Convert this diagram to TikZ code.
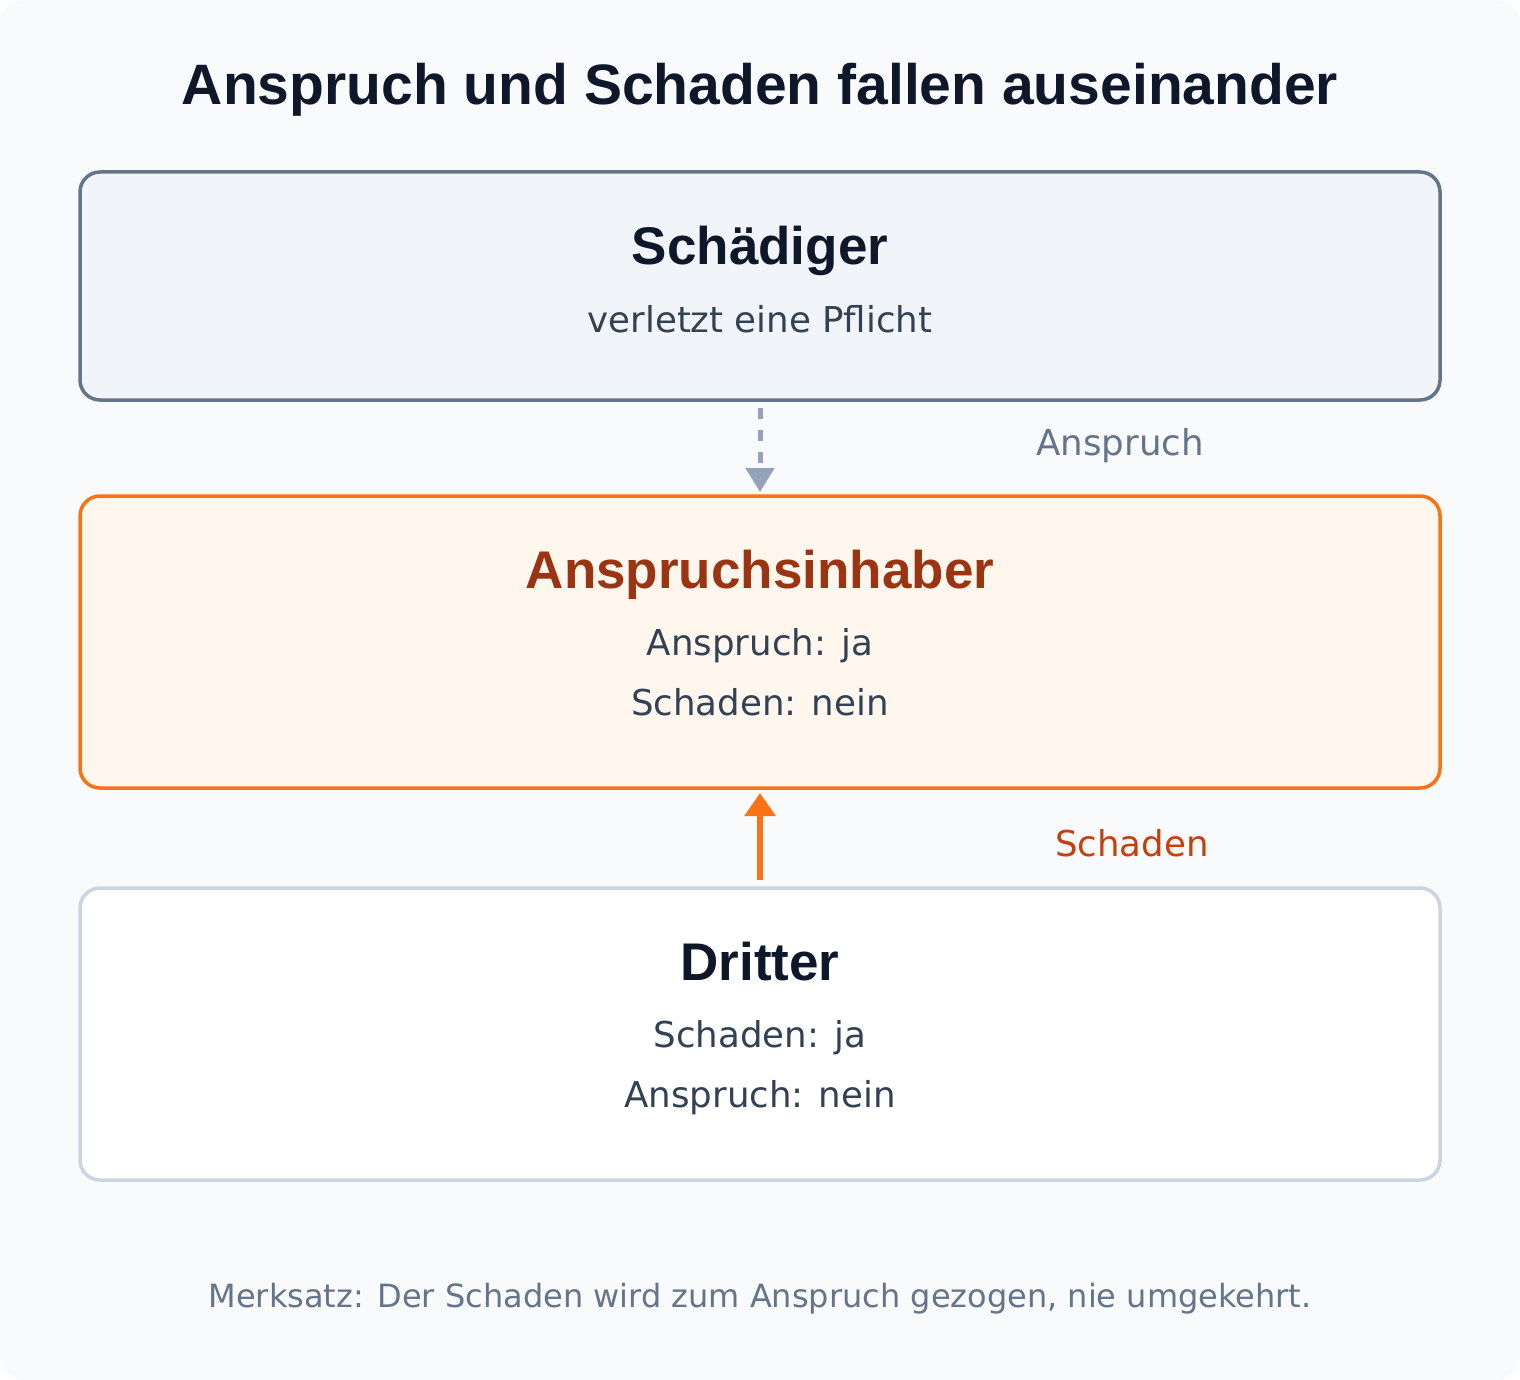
\documentclass[tikz,border=0pt]{standalone}
\usepackage{fontspec}
\setmainfont{DejaVu Sans}
\newfontfamily\hfont{Liberation Sans}
\usetikzlibrary{arrows.meta}
\definecolor{bgc}{HTML}{F8FAFC}
\definecolor{titlec}{HTML}{0F172A}
\definecolor{bodyc}{HTML}{334155}
\definecolor{mutedc}{HTML}{64748B}
\definecolor{slatefill}{HTML}{F1F5F9}
\definecolor{orangefill}{HTML}{FFF7ED}
\definecolor{orangec}{HTML}{F97316}
\definecolor{orangedark}{HTML}{9A3412}
\definecolor{orangelbl}{HTML}{C2410C}
\definecolor{lightstroke}{HTML}{CBD5E1}
\definecolor{dashc}{HTML}{94A3B8}
\tikzset{
  panel/.style={rounded corners=20pt, line width=3.5pt, outer sep=0pt, inner sep=0pt,
    minimum width=1360pt},
  headtxt/.style={anchor=base, inner sep=0pt, font=\hfont\bfseries\fontsize{53}{57}\selectfont},
  bodytxt/.style={anchor=base, inner sep=0pt, text=bodyc, font=\fontsize{35.6}{40}\selectfont},
  lbltxt/.style={anchor=base, inner sep=0pt, font=\fontsize{35.6}{40}\selectfont},
}
\begin{document}
\begin{tikzpicture}[x=1pt,y=-1pt]
\useasboundingbox (0,0) rectangle (1520,1380);
\fill[white] (0,0) rectangle (1520,1380);
\fill[bgc, rounded corners=24pt] (0,0) rectangle (1520,1380);

\node[anchor=base, inner sep=0pt, text=titlec, font=\hfont\bfseries\fontsize{57}{62}\selectfont] (title) at (760,105) {Anspruch und Schaden fallen auseinander};

% boxes
\node[panel, draw=mutedc, fill=slatefill, minimum height=228pt] (s) at (760,286) {};
\node[panel, draw=orangec, fill=orangefill, minimum height=292pt] (a) at (760,642) {};
\node[panel, draw=lightstroke, fill=white, minimum height=292pt] (d) at (760,1034) {};

% texts
\node[headtxt, text=titlec] (sh) at (760,265) {Schädiger};
\node[bodytxt] (sb) at (760,332) {verletzt eine Pflicht};

\node[headtxt, text=orangedark] (ah) at (760,588) {Anspruchsinhaber};
\node[bodytxt] (ab1) at (760,655) {Anspruch: ja};
\node[bodytxt] (ab2) at (760,715) {Schaden: nein};

\node[headtxt, text=titlec] (dh) at (760,980) {Dritter};
\node[bodytxt] (db1) at (760,1047) {Schaden: ja};
\node[bodytxt] (db2) at (760,1107) {Anspruch: nein};

% connectors
\draw[dashc, line width=5pt, dash pattern=on 11pt off 11pt,
  shorten <=8pt, shorten >=4pt, -{Triangle[width=28pt,length=24pt]}] (s.south) -- (a.north);
\draw[orangec, line width=6pt, shorten <=8pt, shorten >=5pt,
  -{Triangle[width=30pt,length=23pt]}] (d.north) -- (a.south);

\node[lbltxt, text=mutedc] (l1) at (1120,455) {Anspruch};
\node[lbltxt, text=orangelbl] (l2) at (1132,856) {Schaden};

\node[anchor=base, inner sep=0pt, text=mutedc, font=\fontsize{32}{36}\selectfont] (foot) at (760,1307) {Merksatz: Der Schaden wird zum Anspruch gezogen, nie umgekehrt.};
\end{tikzpicture}
\end{document}
